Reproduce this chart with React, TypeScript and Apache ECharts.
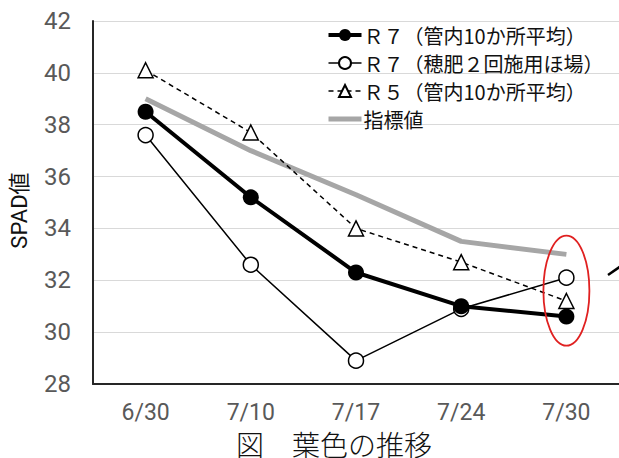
import React, { useEffect, useRef } from "react";
import * as echarts from "echarts";

const categories = ["6/30", "7/10", "7/17", "7/24", "7/30"];
const yTicks = { min: 28, max: 42, interval: 2 };
const seriesNames = [
  "Ｒ７（管内10か所平均）",
  "Ｒ７（穂肥２回施用ほ場）",
  "Ｒ５（管内10か所平均）",
  "指標値",
];
const r7Avg = [38.5, 35.2, 32.3, 31.0, 30.6];
const r7Field = [37.6, 32.6, 28.9, 30.9, 32.1];
const r5Avg = [40.1, 37.7, 34.0, 32.7, 31.2];
const indexValue = [39.0, 37.0, 35.3, 33.5, 33.0];
const highlightCategory = "7/30";
const highlightCenterValue = 31.6;

const TICK_FONT = "Roboto, 'Noto Sans CJK JP', sans-serif";
const CJK_FONT = "'Noto Sans CJK JP', sans-serif";

export default function App() {
  const ref = useRef<HTMLDivElement>(null);
  useEffect(() => {
    if (!ref.current) return;
    const chart = echarts.init(ref.current, undefined, { renderer: "svg" });
    chart.setOption({
      animation: false,
      backgroundColor: "#fff",
      grid: { left: 87, top: 21, width: 535, bottom: 74, containLabel: false },
      title: {
        text: "図　葉色の推移",
        left: 236,
        top: 430,
        padding: 0,
        textStyle: {
          fontFamily: CJK_FONT,
          fontSize: 28,
          lineHeight: 28,
          fontWeight: 300,
          color: "#111",
        },
      },
      legend: {
        orient: "vertical",
        left: 326,
        top: 25,
        itemWidth: 33,
        itemHeight: 15,
        itemGap: 8,
        padding: 0,
        data: [
          { name: seriesNames[0], lineStyle: { width: 4 } },
          { name: seriesNames[1], lineStyle: { width: 1.5 } },
          { name: seriesNames[2], lineStyle: { width: 1.5 } },
          { name: seriesNames[3], itemStyle: { opacity: 0 }, lineStyle: { width: 5 } },
        ],
        textStyle: {
          fontFamily: CJK_FONT,
          fontSize: 20,
          lineHeight: 20,
          color: "#111",
          padding: [0, 0, 0, -3],
        },
      },
      xAxis: {
        type: "category",
        data: categories,
        boundaryGap: true,
        axisLine: { show: true, lineStyle: { color: "#262626", width: 2 } },
        axisTick: { show: false },
        axisLabel: {
          margin: 18,
          fontFamily: TICK_FONT,
          fontSize: 23,
          lineHeight: 20,
          color: "#595959",
        },
        splitLine: { show: false },
      },
      yAxis: {
        type: "value",
        min: yTicks.min,
        max: yTicks.max,
        interval: yTicks.interval,
        name: "SPAD値",
        nameLocation: "middle",
        nameGap: 63,
        nameTextStyle: {
          fontFamily: TICK_FONT,
          fontSize: 22,
          color: "#111",
          padding: [0, 16, 0, 0],
        },
        axisLine: { show: true, lineStyle: { color: "#262626", width: 2 } },
        axisTick: { show: false },
        axisLabel: {
          margin: 22,
          fontFamily: TICK_FONT,
          fontSize: 24,
          color: "#595959",
        },
        splitLine: { show: true, lineStyle: { color: "#d9d9d9", width: 1 } },
      },
      series: [
        {
          name: seriesNames[0],
          type: "line",
          data: r7Avg,
          symbol: "circle",
          symbolSize: 16,
          z: 4,
          itemStyle: { color: "#000" },
          lineStyle: { color: "#000", width: 4 },
        },
        {
          name: seriesNames[1],
          type: "line",
          data: r7Field,
          symbol: "circle",
          symbolSize: 15,
          z: 3,
          itemStyle: { color: "#fff", borderColor: "#000", borderWidth: 1.5 },
          lineStyle: { color: "#000", width: 1.5 },
        },
        {
          name: seriesNames[2],
          type: "line",
          data: r5Avg,
          symbol: "triangle",
          symbolSize: 15,
          z: 3,
          itemStyle: { color: "#fff", borderColor: "#000", borderWidth: 1.5 },
          lineStyle: { color: "#000", width: 1.5, type: [5, 4] },
        },
        {
          name: seriesNames[3],
          type: "line",
          data: indexValue,
          symbol: "none",
          z: 2,
          itemStyle: { color: "#a6a6a6" },
          lineStyle: { color: "#a6a6a6", width: 5 },
        },
      ],
    });
    const c = chart.convertToPixel({ xAxisIndex: 0, yAxisIndex: 0 }, [
      highlightCategory,
      highlightCenterValue,
    ]) as number[];
    chart.setOption({
      graphic: [
        {
          type: "ellipse",
          shape: { cx: c[0], cy: c[1], rx: 23, ry: 55 },
          style: { fill: "none", stroke: "#e02020", lineWidth: 1.8 },
          z: 100,
        },
        {
          type: "line",
          shape: { x1: 608, y1: 275, x2: 621, y2: 266 },
          style: { stroke: "#000", lineWidth: 2.5 },
          z: 100,
        },
      ],
    });
    return () => chart.dispose();
  }, []);
  return <div ref={ref} style={{ width: 619, height: 458, position: "absolute", left: 0, top: 0 }} />;
}
